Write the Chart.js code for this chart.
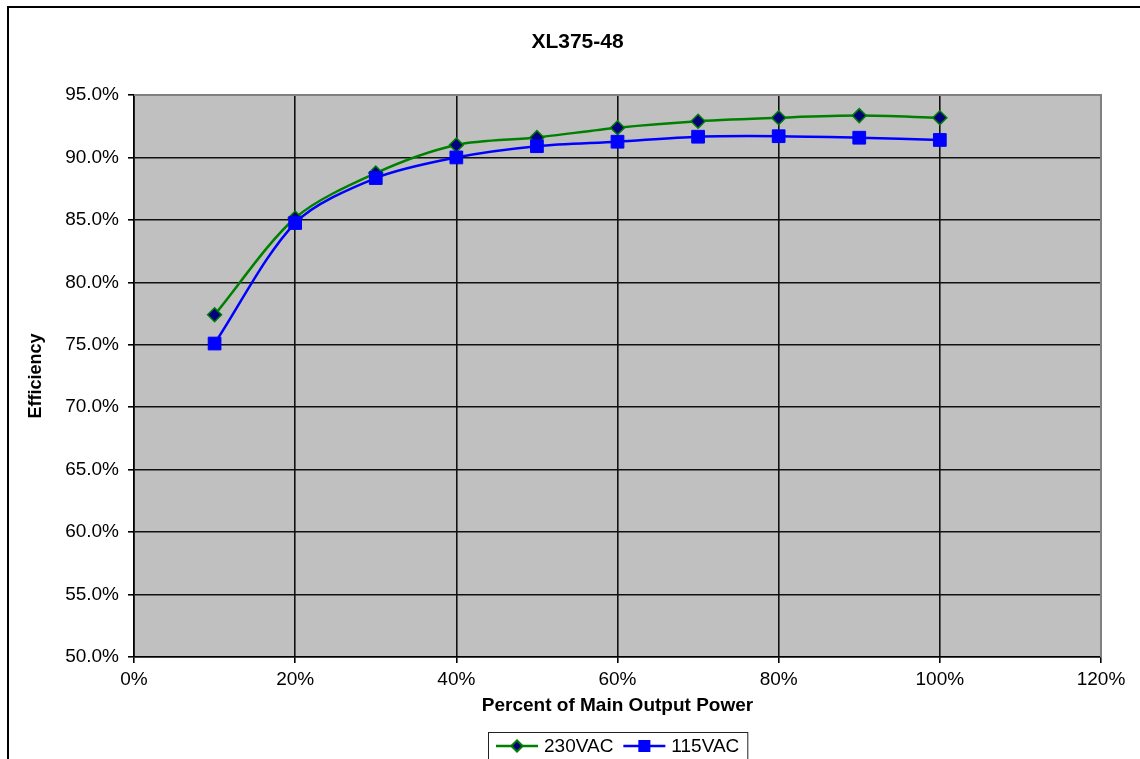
<!DOCTYPE html>
<html>
<head>
<meta charset="utf-8">
<title>XL375-48</title>
<script src="https://cdn.jsdelivr.net/npm/chart.js@4/dist/chart.umd.min.js"></script>
<style>
  html, body { margin: 0; padding: 0; background: #fff; }
  #wrap { width: 1140px; height: 759px; }
</style>
</head>
<body>
<div id="wrap"><canvas id="effChart"></canvas></div>
<script>
// data
const loadPct = [10, 20, 30, 40, 50, 60, 70, 80, 90, 100];
const eff230 = [77.4, 85.15, 88.75, 91.0, 91.6, 92.38, 92.9, 93.18, 93.35, 93.18];
const eff115 = [75.1, 84.75, 88.35, 90.0, 90.9, 91.26, 91.66, 91.7, 91.58, 91.4];
const seriesNames = ['230VAC', '115VAC'];

const FONT = 'Liberation Sans, Arial, sans-serif';

// grey plot area, outer frame and an Excel style legend box
const excelLook = {
  id: 'excelLook',
  beforeDraw(chart) {
    const { ctx, chartArea: a } = chart;
    ctx.save();
    ctx.fillStyle = '#c0c0c0';
    ctx.fillRect(a.left, a.top, a.right - a.left, a.bottom - a.top);
    ctx.restore();
  },
  afterDraw(chart) {
    const { ctx, chartArea: a } = chart;
    ctx.save();
    // top / right edge of the plot area
    ctx.strokeStyle = '#808080';
    ctx.lineWidth = 2;
    ctx.beginPath();
    ctx.moveTo(a.left, a.top);
    ctx.lineTo(a.right, a.top);
    ctx.lineTo(a.right, a.bottom);
    ctx.stroke();

    // outer chart frame (cut off at the right and bottom)
    ctx.strokeStyle = '#000';
    ctx.lineWidth = 2;
    ctx.strokeRect(8, 7, 1200, 800);

    // legend
    ctx.font = '19px ' + FONT;
    ctx.textBaseline = 'middle';
    const pad = 8, lineLen = 42, gap = 6, itemGap = 10;
    const sets = chart.data.datasets;
    let total = pad * 2 + itemGap * (sets.length - 1);
    sets.forEach(ds => { total += lineLen + gap + ctx.measureText(ds.label).width; });
    const cx = (a.left + a.right) / 2;
    let x = Math.round(cx - total / 2);
    const top = 732, cy = 746;
    ctx.fillStyle = '#fff';
    ctx.fillRect(x, top, total, 40);
    ctx.strokeStyle = '#222';
    ctx.lineWidth = 1;
    ctx.strokeRect(x + 0.5, top + 0.5, total, 40);
    x += pad;
    sets.forEach(ds => {
      ctx.strokeStyle = ds.borderColor;
      ctx.lineWidth = ds.borderWidth;
      ctx.beginPath();
      ctx.moveTo(x, cy);
      ctx.lineTo(x + lineLen, cy);
      ctx.stroke();
      Chart.helpers.drawPoint(ctx, {
        pointStyle: ds.pointStyle,
        radius: ds.pointRadius * 0.75,
        borderWidth: ds.pointBorderWidth
      }, x + lineLen / 2, cy);
      ctx.fillStyle = ds.pointBackgroundColor;
      ctx.strokeStyle = ds.pointBorderColor;
      ctx.lineWidth = ds.pointBorderWidth;
      ctx.fill();
      ctx.stroke();
      x += lineLen + gap;
      ctx.fillStyle = '#000';
      ctx.fillText(ds.label, x, cy + 1);
      x += ctx.measureText(ds.label).width + itemGap;
    });
    ctx.restore();
  }
};

const ctx = document.getElementById('effChart').getContext('2d');

new Chart(ctx, {
  type: 'line',
  data: {
    datasets: [{
      label: seriesNames[0],
      data: loadPct.map((p, i) => ({ x: p, y: eff230[i] })),
      borderColor: '#008000',
      borderWidth: 2.5,
      pointStyle: 'rectRot',
      pointRadius: 7,
      pointBackgroundColor: '#000080',
      pointBorderColor: '#008000',
      pointBorderWidth: 1.5,
      tension: 0.3,
      order: 1
    }, {
      label: seriesNames[1],
      data: loadPct.map((p, i) => ({ x: p, y: eff115[i] })),
      borderColor: '#0000ff',
      borderWidth: 2.5,
      pointStyle: 'rect',
      pointRadius: 9,
      pointBackgroundColor: '#0000ff',
      pointBorderColor: '#0000ff',
      pointBorderWidth: 1,
      tension: 0.3,
      order: 0
    }]
  },
  options: {
    responsive: true,
    maintainAspectRatio: false,
    animation: false,
    layout: { padding: { left: 54, right: 39, top: 0, bottom: 41.6 } },
    plugins: {
      legend: { display: false },
      tooltip: { enabled: false },
      title: {
        display: true,
        text: 'XL375-48',
        color: '#000',
        font: { family: FONT, size: 21, weight: 'bold' },
        padding: { top: 29.4, bottom: 40.4 }
      }
    },
    scales: {
      x: {
        type: 'linear',
        min: 0,
        max: 120,
        ticks: {
          stepSize: 20,
          color: '#000',
          padding: 5.6,
          font: { family: FONT, size: 19 },
          callback: v => v + '%'
        },
        grid: { color: '#111', lineWidth: 1.6, tickLength: 6, tickColor: '#000' },
        border: { color: '#000', width: 1.6 },
        title: {
          display: true,
          text: 'Percent of Main Output Power',
          color: '#000',
          font: { family: FONT, size: 19, weight: 'bold' },
          padding: { top: 0, bottom: 0 }
        },
        afterFit(scale) { scale.height = 60.4; }
      },
      y: {
        min: 50,
        max: 95,
        ticks: {
          stepSize: 5,
          color: '#000',
          padding: 9,
          font: { family: FONT, size: 19 },
          callback: v => v.toFixed(1) + '%'
        },
        grid: { color: '#111', lineWidth: 1.6, tickLength: 6, tickColor: '#000' },
        border: { color: '#000', width: 1.6 },
        title: {
          display: true,
          text: 'Efficiency',
          color: '#000',
          font: { family: FONT, size: 18, weight: 'bold' },
          padding: { top: -28.8, bottom: 0 }
        },
        afterFit(scale) { scale.width = 80; }
      }
    }
  },
  plugins: [excelLook]
});
</script>
</body>
</html>
